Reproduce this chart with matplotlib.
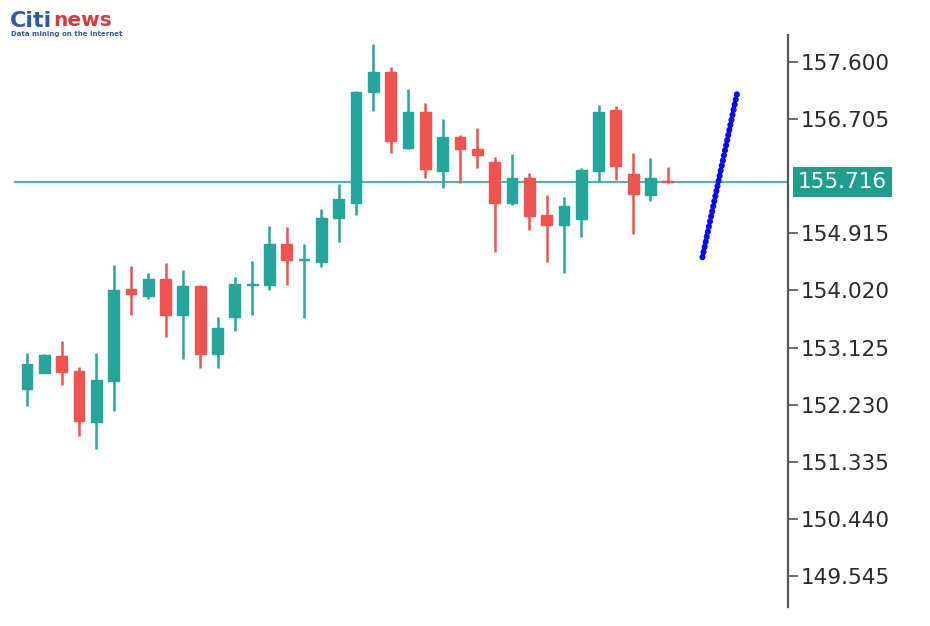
#!/usr/bin/env python3
"""
Candlestick chart with last-price line, trend stroke and right-hand price axis.
Saves out.png (930x626).
"""
import matplotlib
matplotlib.use("Agg")
import matplotlib.pyplot as plt

# OHLC values, oldest first
opens  = [152.48, 152.73, 152.99, 152.76, 151.96, 152.60, 154.04, 153.93, 154.20, 153.63,
          154.09, 153.02, 153.60, 154.11, 154.11, 154.75, 154.50, 154.47, 155.16, 155.39,
          157.13, 157.44, 156.25, 156.82, 155.89, 156.42, 156.24, 156.03, 155.39, 155.78,
          155.20, 155.05, 155.14, 155.89, 156.85, 155.85, 155.52, 155.74]
highs  = [153.04, 153.03, 153.23, 152.82, 153.04, 154.42, 154.40, 154.29, 154.45, 154.34,
          154.11, 153.60, 154.23, 154.48, 155.03, 155.01, 154.75, 155.30, 155.69, 157.15,
          157.88, 157.52, 157.18, 156.96, 156.71, 156.46, 156.57, 156.11, 156.16, 155.86,
          155.52, 155.48, 155.94, 156.93, 156.91, 156.17, 156.10, 155.95]
lows   = [152.21, 152.72, 152.54, 151.74, 151.53, 152.13, 153.63, 153.89, 153.29, 152.95,
          152.80, 152.80, 153.38, 153.63, 154.03, 154.11, 153.59, 154.39, 154.78, 155.20,
          156.83, 156.17, 156.24, 155.78, 155.63, 155.70, 155.94, 154.62, 155.36, 154.97,
          154.47, 154.29, 154.86, 155.72, 155.75, 154.90, 155.42, 155.70]
closes = [152.87, 153.01, 152.74, 151.97, 152.62, 154.03, 153.96, 154.20, 153.63, 154.09,
          153.02, 153.43, 154.12, 154.12, 154.75, 154.50, 154.52, 155.16, 155.45, 157.13,
          157.44, 156.36, 156.82, 155.92, 156.42, 156.24, 156.14, 155.39, 155.78, 155.19,
          155.05, 155.34, 155.91, 156.82, 155.97, 155.53, 155.78, 155.716]

price_ticks = [157.600, 156.705, 154.915, 154.020, 153.125, 152.230, 151.335, 150.440, 149.545]
last_price = 155.716

# projected trend stroke (bar index, price)
trend_x = [39, 41]
trend_y = [154.54, 157.11]

UP = "#26a69a"
DOWN = "#ef5350"

fig = plt.figure(figsize=(9.3, 6.26), dpi=100)
ax = fig.add_axes([14 / 930, 19 / 626, (788 - 14) / 930, (607 - 35) / 626])

idx = list(range(len(opens)))
for i, o, h, l, c in zip(idx, opens, highs, lows, closes):
    col = UP if c >= o else DOWN
    ax.vlines(i, l, h, color=col, lw=1.8, zorder=2)
    ax.bar(i, abs(c - o), bottom=min(o, c), width=0.62, color=col,
           edgecolor=col, linewidth=1.0, zorder=3)

# last price line + tag
ax.axhline(last_price, color="#4fb5a8", lw=1.5, zorder=1)
ax.annotate(f"{last_price:.3f}", xy=(1.0, last_price), xycoords=("axes fraction", "data"),
            xytext=(7, 0), textcoords="offset points", ha="left", va="center",
            fontsize=15.5, color="white", annotation_clip=False,
            bbox=dict(boxstyle="square,pad=0.22", fc="#1f9e8c", ec="none"))

# blue dotted trend stroke
ax.plot(trend_x, trend_y, color="#0a0af0", lw=4.4, linestyle=(0, (0.05, 0.8)),
        dash_capstyle="round", zorder=4)

ax.set_xlim(-0.75, 43.94)
ax.set_ylim(149.058, 158.023)

for side in ("top", "left", "bottom"):
    ax.spines[side].set_visible(False)
ax.spines["right"].set_color("#555555")
ax.spines["right"].set_linewidth(1.6)
ax.yaxis.tick_right()
ax.set_yticks(price_ticks)
ax.set_yticklabels([f"{t:.3f}" for t in price_ticks])
ax.tick_params(axis="y", direction="out", length=7, width=1.2, color="#555555",
               labelsize=15.5, labelcolor="#2a2a2a", pad=2)
ax.set_xticks([])

# logo
fig.text(10 / 930, 1 - 21 / 626, "Citi", fontsize=16, fontweight="bold",
         color="#2e5d9f", va="center", ha="left")
fig.text(53 / 930, 1 - 21 / 626, "news", fontsize=14.5, fontweight="bold",
         color="#d63b42", va="center", ha="left")
fig.text(11 / 930, 1 - 34 / 626, "Data mining on the internet", fontsize=5,
         fontweight="bold", color="#2e5d9f", va="center", ha="left")

fig.savefig("out.png", dpi=100)
